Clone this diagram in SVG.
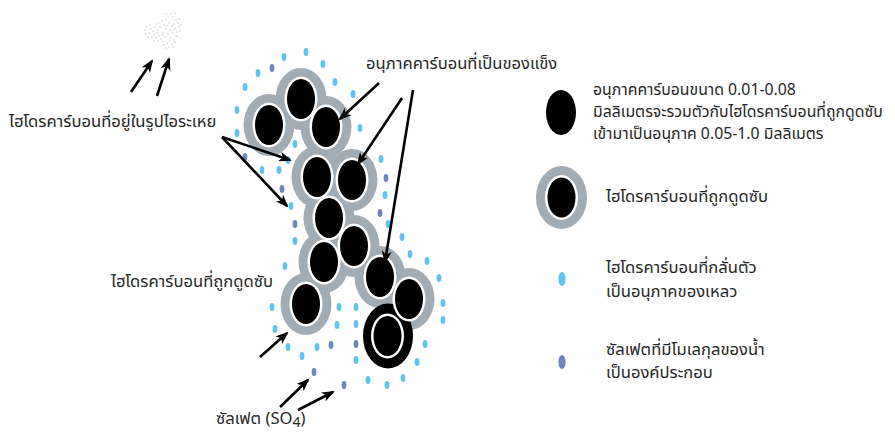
<svg xmlns="http://www.w3.org/2000/svg" width="895" height="434" viewBox="0 0 895 434">
  <style>
    .txt { font-family: "Noto Sans Thai", "Noto Sans", "DejaVu Sans", sans-serif; font-size: 16.6px; fill: #262626; }
    .txt.sm { font-size: 15.8px; }
    .shell { fill: #a2acb4; }
    .rim { fill: #ffffff; }
    .core { fill: #000000; }
    .lb { fill: #5ec3f0; }
    .db { fill: #6f85c2; }
    .arrow { stroke: #000; stroke-width: 2.6; fill: none; marker-end: url(#head); }
  </style>
  <defs>
    <marker id="head" viewBox="0 0 13 10" refX="11" refY="5" markerWidth="13" markerHeight="10" markerUnits="userSpaceOnUse" orient="auto">
      <path d="M0,0 L13,5 L0,10 L3.5,5 Z" fill="#000"/>
    </marker>
    <ellipse id="dot" rx="2.4" ry="4"/>
  </defs>

  <rect width="895" height="434" fill="#fff"/>

  <!-- vapour haze -->
  <g id="vapour" fill="#cdcdcd">
    <circle cx="145" cy="30" r="0.8"/><circle cx="147" cy="27" r="0.8"/><circle cx="149" cy="33" r="0.8"/>
    <circle cx="151" cy="29" r="0.8"/><circle cx="150" cy="25" r="0.8"/><circle cx="153" cy="31" r="0.8"/>
    <circle cx="155" cy="27" r="0.8"/><circle cx="154" cy="35" r="0.8"/><circle cx="157" cy="33" r="0.8"/>
    <circle cx="152" cy="37" r="0.8"/><circle cx="156" cy="38" r="0.8"/><circle cx="159" cy="36" r="0.8"/>
    <circle cx="158" cy="30" r="0.8"/><circle cx="160" cy="27" r="0.8"/><circle cx="162" cy="33" r="0.8"/>
    <circle cx="161" cy="39" r="0.8"/><circle cx="163" cy="42" r="0.8"/><circle cx="165" cy="37" r="0.8"/>
    <circle cx="164" cy="45" r="0.8"/><circle cx="167" cy="43" r="0.8"/><circle cx="169" cy="47" r="0.8"/>
    <circle cx="166" cy="48" r="0.8"/><circle cx="170" cy="41" r="0.8"/><circle cx="172" cy="44" r="0.8"/>
    <circle cx="171" cy="38" r="0.8"/><circle cx="174" cy="40" r="0.8"/><circle cx="176" cy="36" r="0.8"/>
    <circle cx="173" cy="33" r="0.8"/><circle cx="175" cy="29" r="0.8"/><circle cx="177" cy="32" r="0.8"/>
    <circle cx="179" cy="27" r="0.8"/><circle cx="178" cy="23" r="0.8"/><circle cx="176" cy="20" r="0.8"/>
    <circle cx="173" cy="17" r="0.8"/><circle cx="171" cy="14" r="0.8"/><circle cx="168" cy="16" r="0.8"/>
    <circle cx="166" cy="20" r="0.8"/><circle cx="169" cy="23" r="0.8"/><circle cx="172" cy="26" r="0.8"/>
    <circle cx="170" cy="30" r="0.8"/><circle cx="168" cy="34" r="0.8"/><circle cx="166" cy="29" r="0.8"/>
    <circle cx="164" cy="25" r="0.8"/><circle cx="167" cy="26" r="0.8"/><circle cx="174" cy="24" r="0.8"/>
    <circle cx="180" cy="31" r="0.8"/><circle cx="177" cy="36" r="0.8"/><circle cx="175" cy="42" r="0.8"/>
    <circle cx="173" cy="47" r="0.8"/><circle cx="163" cy="35" r="0.8"/><circle cx="158" cy="41" r="0.8"/>
    <circle cx="154" cy="41" r="0.8"/><circle cx="148" cy="37" r="0.8"/><circle cx="146" cy="34" r="0.8"/>
    <circle cx="156" cy="24" r="0.8"/><circle cx="159" cy="23" r="0.8"/><circle cx="162" cy="21" r="0.8"/>
    <circle cx="166" cy="14" r="0.8"/><circle cx="175" cy="13" r="0.8"/><circle cx="179" cy="19" r="0.8"/>
    <circle cx="181" cy="25" r="0.8"/>
  </g>

  <!-- particle cluster: grey absorbed-hydrocarbon shells -->
  <g id="cluster">
    <g class="shell">
      <ellipse cx="301" cy="99" rx="25.5" ry="31"/>
      <ellipse cx="269" cy="125" rx="25.5" ry="31"/>
      <ellipse cx="326" cy="127" rx="25.5" ry="31"/>
      <ellipse cx="317" cy="177" rx="25.5" ry="31"/>
      <ellipse cx="352" cy="180" rx="25.5" ry="31"/>
      <ellipse cx="329" cy="218" rx="25.5" ry="31"/>
      <ellipse cx="354" cy="246" rx="25.5" ry="31"/>
      <ellipse cx="324" cy="262" rx="25.5" ry="31"/>
      <ellipse cx="380" cy="277" rx="25.5" ry="31"/>
      <ellipse cx="409" cy="299" rx="25.5" ry="31"/>
      <ellipse cx="306" cy="304" rx="25.5" ry="31"/>
    </g>
    <!-- black-ringed particle -->
    <ellipse cx="388" cy="336" rx="25" ry="32.5" fill="#000"/>
    <g>
      <ellipse class="rim" cx="301" cy="99" rx="16.5" ry="22.5"/><ellipse class="core" cx="301" cy="99" rx="14" ry="20"/>
      <ellipse class="rim" cx="269" cy="125" rx="16.5" ry="22.5"/><ellipse class="core" cx="269" cy="125" rx="14" ry="20"/>
      <ellipse class="rim" cx="326" cy="127" rx="16.5" ry="22.5"/><ellipse class="core" cx="326" cy="127" rx="14" ry="20"/>
      <ellipse class="rim" cx="317" cy="177" rx="16.5" ry="22.5"/><ellipse class="core" cx="317" cy="177" rx="14" ry="20"/>
      <ellipse class="rim" cx="352" cy="180" rx="16.5" ry="22.5"/><ellipse class="core" cx="352" cy="180" rx="14" ry="20"/>
      <ellipse class="rim" cx="329" cy="218" rx="16.5" ry="22.5"/><ellipse class="core" cx="329" cy="218" rx="14" ry="20"/>
      <ellipse class="rim" cx="354" cy="246" rx="16.5" ry="22.5"/><ellipse class="core" cx="354" cy="246" rx="14" ry="20"/>
      <ellipse class="rim" cx="324" cy="262" rx="16.5" ry="22.5"/><ellipse class="core" cx="324" cy="262" rx="14" ry="20"/>
      <ellipse class="rim" cx="380" cy="277" rx="16.5" ry="22.5"/><ellipse class="core" cx="380" cy="277" rx="14" ry="20"/>
      <ellipse class="rim" cx="409" cy="299" rx="16.5" ry="22.5"/><ellipse class="core" cx="409" cy="299" rx="14" ry="20"/>
      <ellipse class="rim" cx="306" cy="304" rx="16.5" ry="22.5"/><ellipse class="core" cx="306" cy="304" rx="14" ry="20"/>
      <ellipse class="rim" cx="387.5" cy="336" rx="16.5" ry="22.5"/><ellipse class="core" cx="387.5" cy="336" rx="14" ry="20"/>
    </g>
  </g>

  <!-- liquid hydrocarbon droplets -->
  <g id="droplets" class="lb">
    <use href="#dot" x="306" y="52"/><use href="#dot" x="284" y="57"/><use href="#dot" x="258" y="73"/>
    <use href="#dot" x="323" y="64"/><use href="#dot" x="245" y="87"/><use href="#dot" x="335" y="82"/>
    <use href="#dot" x="353" y="94"/><use href="#dot" x="237" y="110"/><use href="#dot" x="360" y="128"/>
    <use href="#dot" x="237" y="133"/><use href="#dot" x="295" y="144"/><use href="#dot" x="288" y="160"/>
    <use href="#dot" x="262" y="170"/><use href="#dot" x="279" y="170"/><use href="#dot" x="291" y="206"/>
    <use href="#dot" x="295" y="241"/><use href="#dot" x="285" y="266"/><use href="#dot" x="381" y="159"/>
    <use href="#dot" x="385" y="195"/><use href="#dot" x="388" y="224"/><use href="#dot" x="402" y="237"/>
    <use href="#dot" x="410" y="254"/><use href="#dot" x="427" y="261"/><use href="#dot" x="439" y="278"/>
    <use href="#dot" x="443" y="303"/><use href="#dot" x="443" y="320"/><use href="#dot" x="425" y="344"/>
    <use href="#dot" x="417" y="362"/><use href="#dot" x="403" y="378"/><use href="#dot" x="387" y="385"/>
    <use href="#dot" x="368" y="380"/><use href="#dot" x="356" y="307"/><use href="#dot" x="356" y="324"/>
    <use href="#dot" x="356" y="360"/><use href="#dot" x="339" y="307"/><use href="#dot" x="337" y="325"/>
    <use href="#dot" x="317" y="347"/><use href="#dot" x="302" y="356"/><use href="#dot" x="288" y="347"/>
    <use href="#dot" x="275" y="329"/><use href="#dot" x="272" y="307"/>
  </g>

  <!-- hydrated sulfate -->
  <g id="sulfate" class="db">
    <use href="#dot" x="272" y="68"/><use href="#dot" x="245" y="157"/><use href="#dot" x="282" y="189"/>
    <use href="#dot" x="295" y="224"/><use href="#dot" x="386" y="178"/><use href="#dot" x="380" y="213"/>
    <use href="#dot" x="356" y="344"/><use href="#dot" x="331" y="345"/><use href="#dot" x="314" y="372"/>
    <use href="#dot" x="344" y="385"/>
  </g>

  <!-- connectors -->
  <g id="connectors">
    <line class="arrow" x1="131" y1="92" x2="152" y2="61"/>
    <line class="arrow" x1="157" y1="96" x2="169" y2="59"/>
    <line class="arrow" x1="222" y1="137" x2="290" y2="160"/>
    <line class="arrow" x1="222" y1="137" x2="287" y2="206"/>
    <line class="arrow" x1="379" y1="83" x2="340" y2="119"/>
    <line class="arrow" x1="402" y1="98" x2="358" y2="164"/>
    <line class="arrow" x1="413" y1="90" x2="385" y2="262"/>
    <line class="arrow" x1="260" y1="357" x2="287" y2="333"/>
    <line class="arrow" x1="280" y1="407" x2="308" y2="380"/>
    <line class="arrow" x1="298" y1="410" x2="333" y2="392"/>
  </g>

  <!-- labels -->
  <g id="label-vapour"><text class="txt" x="9" y="127">ไฮโดรคาร์บอนที่อยู่ในรูปไอระเหย</text></g>
  <g id="label-solid"><text class="txt" x="366" y="69">อนุภาคคาร์บอนที่เป็นของแข็ง</text></g>
  <g id="label-absorbed"><text class="txt" x="111" y="287">ไฮโดรคาร์บอนที่ถูกดูดซับ</text></g>
  <g id="label-so4"><text class="txt" x="216" y="424">ซัลเฟต (SO<tspan font-size="14" dy="2.5">4</tspan><tspan dy="-2.5">)</tspan></text></g>

  <!-- legend -->
  <g id="legend-carbon">
    <ellipse cx="561" cy="112.5" rx="15" ry="22.5" fill="#000"/>
    <text class="txt sm" x="593" y="95">อนุภาคคาร์บอนขนาด 0.01-0.08</text>
    <text class="txt sm" x="593" y="117">มิลลิเมตรจะรวมตัวกับไฮโดรคาร์บอนที่ถูกดูดซับ</text>
    <text class="txt sm" x="593" y="139">เข้ามาเป็นอนุภาค 0.05-1.0 มิลลิเมตร</text>
  </g>
  <g id="legend-absorbed">
    <ellipse class="shell" cx="561.5" cy="197.5" rx="25.5" ry="31.5"/>
    <ellipse class="rim" cx="561.5" cy="197.5" rx="16.5" ry="22.5"/>
    <ellipse class="core" cx="561.5" cy="197.5" rx="14" ry="20"/>
    <text class="txt" x="606" y="202">ไฮโดรคาร์บอนที่ถูกดูดซับ</text>
  </g>
  <g id="legend-liquid">
    <ellipse class="lb" cx="562" cy="279" rx="3.6" ry="7"/>
    <text class="txt" x="606" y="273">ไฮโดรคาร์บอนที่กลั่นตัว</text>
    <text class="txt" x="606" y="297">เป็นอนุภาคของเหลว</text>
  </g>
  <g id="legend-sulfate">
    <ellipse class="db" cx="562" cy="362" rx="3.6" ry="7"/>
    <text class="txt" x="606" y="355">ซัลเฟตที่มีโมเลกุลของน้ำ</text>
    <text class="txt" x="606" y="378">เป็นองค์ประกอบ</text>
  </g>
</svg>
